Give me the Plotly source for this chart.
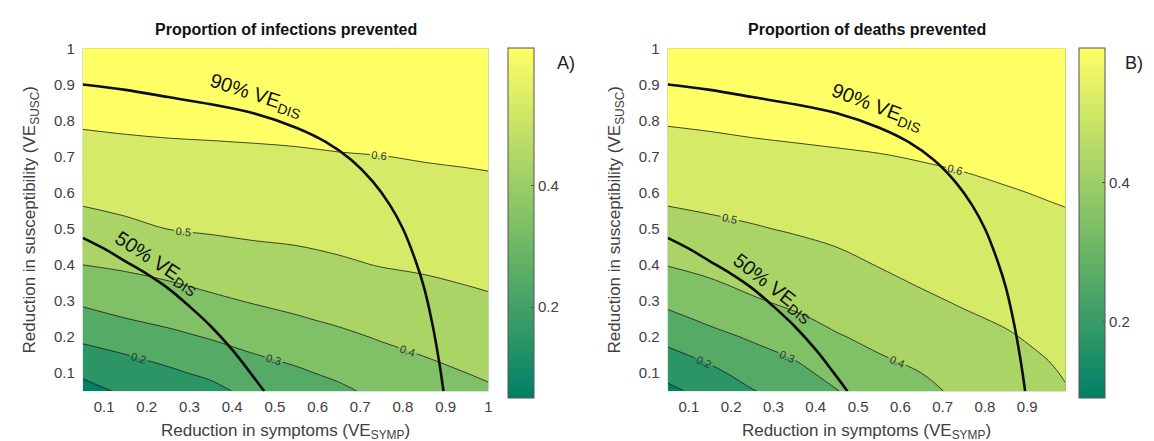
import plotly.graph_objects as go

# ---------------- data ----------------
ve_symp = [0.05, 0.15, 0.25, 0.35, 0.45, 0.55, 0.65, 0.75, 0.85, 0.95, 1.0]
ve_susc = [0.05, 0.10, 0.15, 0.20, 0.25, 0.30, 0.40, 0.50, 0.60, 0.70, 0.80, 0.90, 1.00]

# rows follow ve_susc, columns follow ve_symp
infections_prevented = [
    [0.065, 0.116, 0.149, 0.173, 0.228, 0.253, 0.283, 0.323, 0.350, 0.375, 0.390],
    [0.116, 0.157, 0.184, 0.218, 0.262, 0.287, 0.317, 0.351, 0.376, 0.400, 0.410],
    [0.168, 0.198, 0.228, 0.262, 0.297, 0.321, 0.350, 0.380, 0.402, 0.421, 0.431],
    [0.219, 0.248, 0.278, 0.306, 0.333, 0.357, 0.383, 0.407, 0.425, 0.443, 0.451],
    [0.268, 0.298, 0.321, 0.345, 0.370, 0.393, 0.413, 0.432, 0.448, 0.464, 0.471],
    [0.315, 0.338, 0.359, 0.384, 0.406, 0.422, 0.438, 0.456, 0.470, 0.485, 0.492],
    [0.400, 0.414, 0.432, 0.452, 0.467, 0.477, 0.490, 0.503, 0.511, 0.520, 0.523],
    [0.465, 0.483, 0.501, 0.509, 0.516, 0.520, 0.527, 0.535, 0.542, 0.550, 0.553],
    [0.521, 0.532, 0.540, 0.546, 0.551, 0.555, 0.561, 0.568, 0.573, 0.580, 0.582],
    [0.566, 0.574, 0.580, 0.583, 0.587, 0.590, 0.596, 0.599, 0.605, 0.609, 0.612],
    [0.611, 0.616, 0.619, 0.621, 0.622, 0.626, 0.627, 0.628, 0.630, 0.631, 0.632],
    [0.616, 0.620, 0.623, 0.625, 0.627, 0.629, 0.630, 0.631, 0.633, 0.634, 0.635],
    [0.620, 0.624, 0.627, 0.629, 0.631, 0.632, 0.633, 0.634, 0.636, 0.637, 0.638],
]

deaths_prevented = [
    [0.077, 0.135, 0.195, 0.242, 0.297, 0.348, 0.377, 0.421, 0.443, 0.476, 0.499],
    [0.127, 0.178, 0.234, 0.275, 0.329, 0.373, 0.400, 0.439, 0.460, 0.491, 0.509],
    [0.178, 0.224, 0.272, 0.309, 0.361, 0.398, 0.422, 0.456, 0.477, 0.504, 0.520],
    [0.227, 0.273, 0.311, 0.349, 0.394, 0.419, 0.444, 0.474, 0.493, 0.516, 0.530],
    [0.276, 0.317, 0.352, 0.388, 0.417, 0.440, 0.467, 0.491, 0.508, 0.527, 0.540],
    [0.321, 0.357, 0.392, 0.416, 0.438, 0.462, 0.489, 0.507, 0.520, 0.538, 0.550],
    [0.403, 0.425, 0.444, 0.462, 0.481, 0.503, 0.521, 0.533, 0.545, 0.560, 0.570],
    [0.466, 0.481, 0.494, 0.507, 0.520, 0.534, 0.548, 0.559, 0.570, 0.583, 0.590],
    [0.520, 0.528, 0.536, 0.546, 0.556, 0.566, 0.576, 0.585, 0.595, 0.605, 0.608],
    [0.563, 0.570, 0.578, 0.585, 0.591, 0.597, 0.604, 0.611, 0.620, 0.622, 0.625],
    [0.607, 0.613, 0.620, 0.624, 0.628, 0.630, 0.626, 0.627, 0.630, 0.630, 0.631],
    [0.615, 0.620, 0.625, 0.630, 0.633, 0.635, 0.635, 0.635, 0.637, 0.637, 0.638],
    [0.620, 0.625, 0.630, 0.634, 0.637, 0.640, 0.640, 0.640, 0.642, 0.642, 0.643],
]

# iso-lines of overall efficacy against disease (VE_DIS)
ve90_symp = [0.05, 0.15, 0.25, 0.35, 0.45, 0.55, 0.62, 0.68, 0.73, 0.77, 0.80, 0.83, 0.85, 0.87, 0.885, 0.895]
ve90_susc = [0.90, 0.885, 0.865, 0.845, 0.82, 0.78, 0.74, 0.69, 0.63, 0.565, 0.50, 0.41, 0.335, 0.23, 0.13, 0.05]
ve50_symp = [0.05, 0.10, 0.15, 0.20, 0.25, 0.30, 0.35, 0.40, 0.44, 0.475]
ve50_susc = [0.475, 0.445, 0.41, 0.375, 0.335, 0.285, 0.23, 0.165, 0.105, 0.05]

tick_vals = [0.1, 0.2, 0.3, 0.4, 0.5, 0.6, 0.7, 0.8, 0.9, 1.0]
tick_text = ["0.1", "0.2", "0.3", "0.4", "0.5", "0.6", "0.7", "0.8", "0.9", "1"]
cbar_ticks = [0.2, 0.4]

# ---------------- styling ----------------
W, H = 1154, 441
FONT = "Liberation Sans, Arial, sans-serif"
GREY = "#404040"
summer = [[0, "rgb(0,128,102)"], [1, "rgb(255,255,102)"]]

def px_x(p):
    return p / W

def px_y(p):
    return 1 - p / H

panels = [
    dict(z=infections_prevented, xa="x", ya="y", xr=[0.05, 1.0], dom=(75, 482),
         cb_x=502, cb_rng=(0.05, 0.625), tag="A)", tag_x=560,
         title="Proportion of infections prevented",
         l90=(0.455, 0.868, 18), l50=(0.225, 0.405, 33)),
    dict(z=deaths_prevented, xa="x2", ya="y2", xr=[0.05, 0.99], dom=(662, 1061),
         cb_x=1075, cb_rng=(0.089, 0.593), tag="B)", tag_x=1130,
         title="Proportion of deaths prevented",
         l90=(0.545, 0.835, 21), l50=(0.30, 0.335, 38)),
]

fig = go.Figure()
annotations = []
top_px, bot_px = 32, 382

for p in panels:
    fig.add_trace(go.Contour(
        x=ve_symp, y=ve_susc, z=p["z"], xaxis=p["xa"], yaxis=p["ya"],
        colorscale=summer, showscale=False, hoverinfo="skip",
        contours=dict(start=0.1, end=0.6, size=0.1, coloring="fill",
                      showlabels=True,
                      labelfont=dict(size=11, color="#333333", family=FONT)),
        line=dict(color="#1a1a1a", width=0.8, smoothing=1),
    ))
    for xs, ys in ((ve90_symp, ve90_susc), (ve50_symp, ve50_susc)):
        fig.add_trace(go.Scatter(
            x=xs, y=ys, xaxis=p["xa"], yaxis=p["ya"], mode="lines",
            line=dict(color="#0d0d0d", width=2.6, shape="spline"),
            showlegend=False, hoverinfo="skip"))
    # continuous colour bar
    fig.add_trace(go.Scatter(
        x=[-5], y=[-5], xaxis=p["xa"], yaxis=p["ya"], mode="markers",
        showlegend=False, hoverinfo="skip",
        marker=dict(size=1, color=[0.3], colorscale=summer,
                    cmin=p["cb_rng"][0], cmax=p["cb_rng"][1], showscale=True,
                    colorbar=dict(x=px_x(p["cb_x"]), xanchor="left", xpad=0,
                                  y=px_y(top_px), yanchor="top", ypad=0,
                                  len=bot_px - top_px, lenmode="pixels",
                                  thickness=26, thicknessmode="pixels",
                                  outlinewidth=1, outlinecolor="#555555",
                                  tickvals=cbar_ticks, ticktext=["0.2", "0.4"],
                                  ticks="inside", ticklen=3, tickcolor="#555555",
                                  tickfont=dict(size=15, color=GREY, family=FONT)))))
    x0, x1 = p["dom"]
    annotations.append(dict(text="<b>" + p["title"] + "</b>", xref="paper", yref="paper",
                            x=px_x((x0 + x1) / 2), y=px_y(13), xanchor="center",
                            yanchor="middle", showarrow=False,
                            font=dict(size=16, color="#111111", family=FONT)))
    annotations.append(dict(text=p["tag"], xref="paper", yref="paper",
                            x=px_x(p["tag_x"]), y=px_y(47), xanchor="center",
                            yanchor="middle", showarrow=False,
                            font=dict(size=18, color="#222222", family=FONT)))
    lx, ly, la = p["l90"]
    annotations.append(dict(text="90% VE<sub>DIS</sub>", xref=p["xa"], yref=p["ya"],
                            x=lx, y=ly, textangle=la, showarrow=False,
                            font=dict(size=20, color="#111111", family=FONT)))
    lx, ly, la = p["l50"]
    annotations.append(dict(text="50% VE<sub>DIS</sub>", xref=p["xa"], yref=p["ya"],
                            x=lx, y=ly, textangle=la, showarrow=False,
                            font=dict(size=20, color="#111111", family=FONT)))

def xaxis_cfg(p):
    x0, x1 = p["dom"]
    tv = [t for t in tick_vals if t <= p["xr"][1] + 1e-9]
    tt = tick_text[:len(tv)]
    return dict(domain=[px_x(x0), px_x(x1)], range=p["xr"], tickvals=tv, ticktext=tt,
                showgrid=False, zeroline=False, showline=False, ticks="",
                ticklabelstandoff=5,
                tickfont=dict(size=15, color=GREY, family=FONT),
                title=dict(text="Reduction in symptoms (VE<sub>SYMP</sub>)",
                           font=dict(size=17, color=GREY, family=FONT), standoff=9))

def yaxis_cfg():
    return dict(domain=[px_y(bot_px), px_y(top_px)], range=[0.05, 1.0],
                tickvals=tick_vals, ticktext=tick_text,
                showgrid=False, zeroline=False, showline=False, ticks="",
                ticklabelstandoff=7,
                tickfont=dict(size=15, color=GREY, family=FONT),
                title=dict(text="Reduction in susceptibility (VE<sub>SUSC</sub>)",
                           font=dict(size=17, color=GREY, family=FONT), standoff=13))

fig.update_layout(
    width=W, height=H, margin=dict(l=0, r=0, t=0, b=0),
    paper_bgcolor="white", plot_bgcolor="white", showlegend=False,
    font=dict(family=FONT),
    xaxis=dict(**xaxis_cfg(panels[0]), anchor="y"),
    yaxis=dict(**yaxis_cfg(), anchor="x"),
    xaxis2=dict(**xaxis_cfg(panels[1]), anchor="y2"),
    yaxis2=dict(**yaxis_cfg(), anchor="x2"),
    annotations=annotations,
)

fig.write_html("out.html")
